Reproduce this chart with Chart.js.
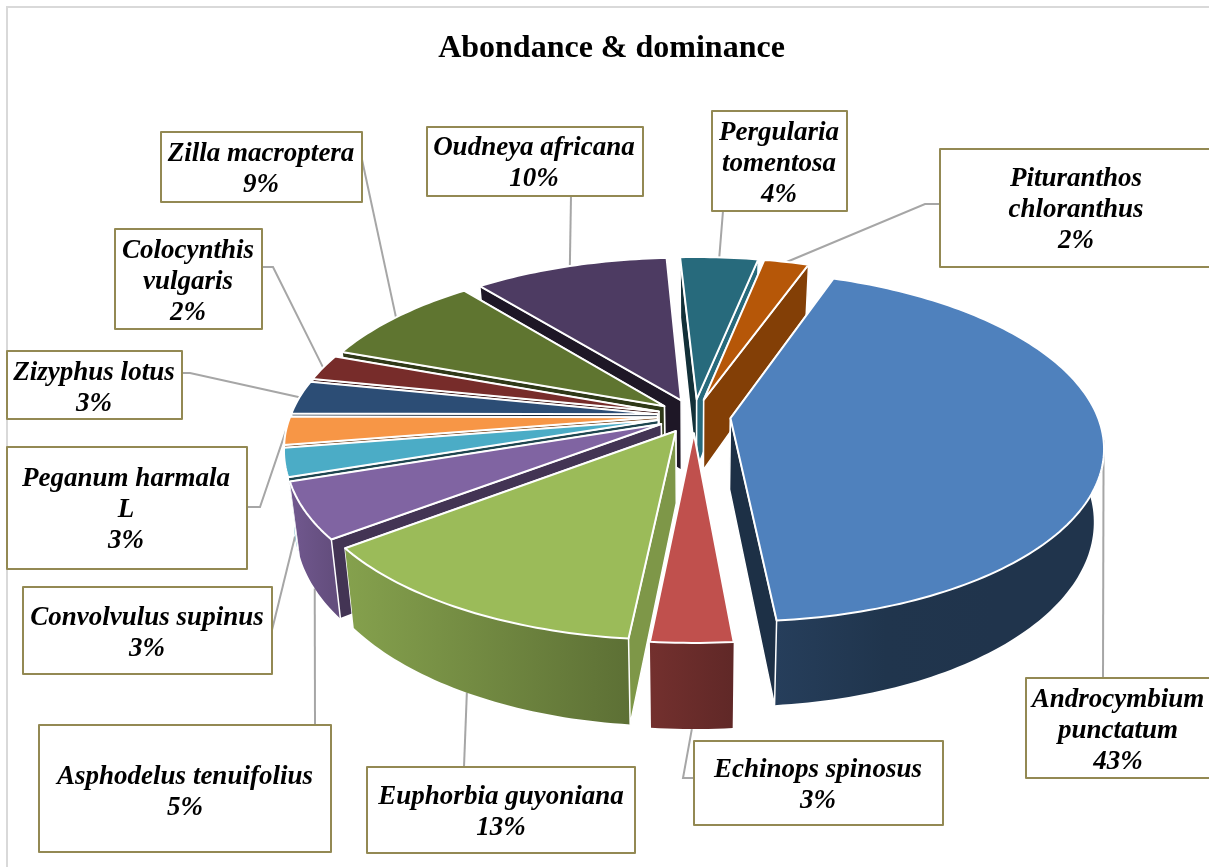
<!DOCTYPE html>
<html lang="en">
<head>
    <meta charset="UTF-8">
    <title>Abondance & dominance</title>
    <script src="https://cdn.jsdelivr.net/npm/chart.js@4.4.1/dist/chart.umd.min.js"></script>
    <style>
        body { margin: 0; background: #fff; }
        canvas { display: block; }
    </style>
</head>
<body>
    <canvas id="pie" width="1209" height="867"></canvas>

    <script>
        // data
        const labelLines = [
            ['Androcymbium', 'punctatum'], ['Echinops spinosus'], ['Euphorbia guyoniana'],
            ['Asphodelus tenuifolius'], ['Convolvulus supinus'], ['Peganum harmala', 'L'],
            ['Zizyphus lotus'], ['Colocynthis', 'vulgaris'], ['Zilla macroptera'],
            ['Oudneya africana'], ['Pergularia', 'tomentosa'], ['Pituranthos', 'chloranthus']
        ];
        const categories = labelLines.map(l => l.join(' '));
        const shares = [43.1, 3.0, 13.1, 5.2, 2.6, 2.6, 3.1, 2.4, 8.6, 10.0, 4.0, 2.3];
        const sliceColors = ['#4F81BD', '#C0504D', '#9BBB59', '#8064A2', '#4BACC6', '#F79646',
                             '#2C4D75', '#772C2A', '#5F7530', '#4D3B62', '#276A7C', '#B65708'];

        // how the lit sides of the slices look, as fractions of the slice colour
        const wallShades = [[.48, .41, .4, .4], [.6, .5], [.86, .6], [.88, .78], [.95, .9], [.9, .85],
                            [.7, .6], [.7, .6], [.7, .6], [.7, .6], [.7, .6], [.7, .6]];
        const startFaceShades = [.5, .6, .81, .52, .4, .5, .5, .5, .49, .39, .45, .6];
        const endFaceShades = [.37, .6, .6, .6, .6, .6, .6, .6, .6, .6, 1, .72];

        // label boxes, x y w h, first line centre, text centre
        const labelBoxes = [
            { x: 1026, y: 678, w: 190, h: 100, cx: 1118, top: 700 },
            { x: 694, y: 741, w: 249, h: 84, cx: 818, top: 770 },
            { x: 367, y: 767, w: 268, h: 86, cx: 501, top: 797 },
            { x: 39, y: 725, w: 292, h: 127, cx: 185, top: 777 },
            { x: 23, y: 587, w: 249, h: 87, cx: 147, top: 618 },
            { x: 7, y: 447, w: 240, h: 122, cx: 126, top: 479 },
            { x: 7, y: 351, w: 175, h: 68, cx: 94, top: 373 },
            { x: 115, y: 229, w: 147, h: 100, cx: 188, top: 251 },
            { x: 161, y: 132, w: 201, h: 70, cx: 261, top: 154 },
            { x: 427, y: 127, w: 216, h: 69, cx: 534, top: 148 },
            { x: 712, y: 111, w: 135, h: 100, cx: 779, top: 133 },
            { x: 940, y: 149, w: 280, h: 118, cx: 1076, top: 179 }
        ];
        // leader line after it leaves the slice; base = leaves from the bottom edge of the wall
        const leaders = [
            { to: [[1103, 678]] },
            { base: true, to: [[683, 778], [694, 778]] },
            { base: true, to: [[464, 767]] },
            { base: true, to: [[315, 725]] },
            { base: true, to: [[272, 630]] },
            { to: [[260, 507], [247, 507]] },
            { to: [[190, 373], [182, 373]] },
            { to: [[273, 267], [262, 267]] },
            { to: [[361, 155]] },
            { to: [[571, 196]] },
            { to: [[723, 211], [735, 211]] },
            { to: [[925, 204], [940, 204]] }
        ];

        // fake 3d view of the pie
        const view = { cx: 694, cy: 416, rx: 367, ry: 170, persp: .16, depth: 71, baseScale: .975 };

        function project(u, v, z) {
            const s = 1 / (1 - view.persp * v);
            return {
                x: view.cx + view.rx * u * s * (z ? view.baseScale : 1),
                y: view.cy + view.ry * v * s + z * view.depth * s
            };
        }

        function shade(hex, f) {
            const n = parseInt(hex.slice(1), 16);
            const c = [n >> 16, (n >> 8) & 255, n & 255].map(p => Math.round(p * f));
            return 'rgb(' + c.join(',') + ')';
        }

        function slicePoint(el, angle, r, z) {
            const mid = (el.startAngle + el.endAngle) / 2;
            const off = el.options.offset / 100;
            return project(Math.cos(mid) * off + Math.cos(angle) * r,
                           Math.sin(mid) * off + Math.sin(angle) * r, z);
        }

        function rimAngles(el) {
            const list = [];
            const steps = Math.max(2, Math.ceil((el.endAngle - el.startAngle) / 0.02));
            for (let i = 0; i <= steps; i++) list.push(el.startAngle + (el.endAngle - el.startAngle) * i / steps);
            return list;
        }

        function fillPath(ctx, pts, fill, stroke, width) {
            if (pts.length < 3) return;
            ctx.beginPath();
            pts.forEach((p, i) => i ? ctx.lineTo(p.x, p.y) : ctx.moveTo(p.x, p.y));
            ctx.closePath();
            ctx.fillStyle = fill;
            ctx.fill();
            if (stroke) {
                ctx.strokeStyle = stroke;
                ctx.lineWidth = width || 1.5;
                ctx.lineJoin = 'round';
                ctx.stroke();
            }
        }

        function drawSlice(ctx, el, i) {
            const color = sliceColors[i];
            const angles = rimAngles(el);
            const apex = slicePoint(el, 0, 0, 0);
            const apexBase = slicePoint(el, 0, 0, 1);
            const face = a => [apex, slicePoint(el, a, 1, 0), slicePoint(el, a, 1, 1), apexBase];
            const wall = list => list.map(a => slicePoint(el, a, 1, 0))
                .concat(list.slice().reverse().map(a => slicePoint(el, a, 1, 1)));

            // split the round wall in the part behind the slice and the part facing us
            const backAngles = angles.filter(a => Math.sin(a) < 0);
            const frontAngles = angles.filter(a => Math.sin(a) >= 0);

            // wall colour runs left to right over the part that faces us
            const xs = (frontAngles.length ? frontAngles : angles).map(a => slicePoint(el, a, 1, 0).x);
            const x0 = Math.min(...xs), x1 = Math.max(...xs);
            const grad = ctx.createLinearGradient(x0, 0, Math.max(x1, x0 + 1), 0);
            wallShades[i].forEach((f, k, all) => grad.addColorStop(k / (all.length - 1), shade(color, f)));

            const cuts = [
                { pts: face(el.startAngle), fill: shade(color, startFaceShades[i]), front: Math.sin(el.startAngle - Math.PI / 2) > 0 },
                { pts: face(el.endAngle), fill: shade(color, endFaceShades[i]), front: Math.sin(el.endAngle + Math.PI / 2) > 0 }
            ];

            fillPath(ctx, wall(backAngles), grad);
            cuts.filter(c => !c.front).forEach(c => fillPath(ctx, c.pts, c.fill, '#fff', 1.5));
            fillPath(ctx, wall(frontAngles), grad);
            cuts.filter(c => c.front).forEach(c => fillPath(ctx, c.pts, c.fill, '#fff', 1.5));

            // top
            fillPath(ctx, [apex].concat(angles.map(a => slicePoint(el, a, 1, 0))), color, '#fff', 2);
        }

        const pie3d = {
            id: 'pie3d',
            beforeDraw(chart) {
                const ctx = chart.ctx;
                ctx.save();
                ctx.fillStyle = '#D9D9D9';
                ctx.fillRect(6, 6, 1203, 2);
                ctx.fillRect(6, 6, 2, 861);
                ctx.restore();
            },
            beforeDatasetDraw(chart, args) {
                const ctx = chart.ctx;
                const arcs = args.meta.data;
                ctx.save();

                // leaders go first, the slices cover their start
                ctx.strokeStyle = '#A6A6A6';
                ctx.lineWidth = 2;
                arcs.forEach((el, i) => {
                    const mid = (el.startAngle + el.endAngle) / 2;
                    const from = slicePoint(el, mid, 1, leaders[i].base ? 1 : 0);
                    ctx.beginPath();
                    ctx.moveTo(from.x, from.y);
                    leaders[i].to.forEach(p => ctx.lineTo(p[0], p[1]));
                    ctx.stroke();
                });

                // back to front
                const order = arcs.map((el, i) => i).sort((a, b) => {
                    const midA = (arcs[a].startAngle + arcs[a].endAngle) / 2;
                    const midB = (arcs[b].startAngle + arcs[b].endAngle) / 2;
                    return Math.sin(midA) - Math.sin(midB);
                });
                order.forEach(i => drawSlice(ctx, arcs[i], i));

                // boxes and percentages
                ctx.textAlign = 'center';
                ctx.textBaseline = 'middle';
                labelBoxes.forEach((b, i) => {
                    ctx.fillStyle = '#fff';
                    ctx.fillRect(b.x, b.y, b.w, b.h);
                    ctx.strokeStyle = '#938953';
                    ctx.lineWidth = 2;
                    ctx.strokeRect(b.x, b.y, b.w, b.h);
                    ctx.fillStyle = '#000';
                    ctx.font = 'italic bold 27px "Liberation Serif"';
                    const lines = labelLines[i].concat(Math.round(shares[i]) + '%');
                    lines.forEach((line, k) => ctx.fillText(line, b.cx, b.top + k * 31));
                });

                ctx.restore();
                return false;
            }
        };

        new Chart(document.getElementById('pie'), {
            type: 'pie',
            data: {
                labels: categories,
                datasets: [{
                    data: shares,
                    backgroundColor: sliceColors,
                    offset: 10
                }]
            },
            options: {
                responsive: false,
                animation: false,
                rotation: 19.7,
                layout: { padding: { left: 14 } },
                plugins: {
                    legend: { display: false },
                    tooltip: { enabled: false },
                    title: {
                        display: true,
                        text: 'Abondance & dominance',
                        color: '#000',
                        font: { family: '"Liberation Serif"', size: 32, weight: 'bold' },
                        padding: { top: 30, bottom: 10 }
                    }
                }
            },
            plugins: [pie3d]
        });
    </script>
</body>
</html>
